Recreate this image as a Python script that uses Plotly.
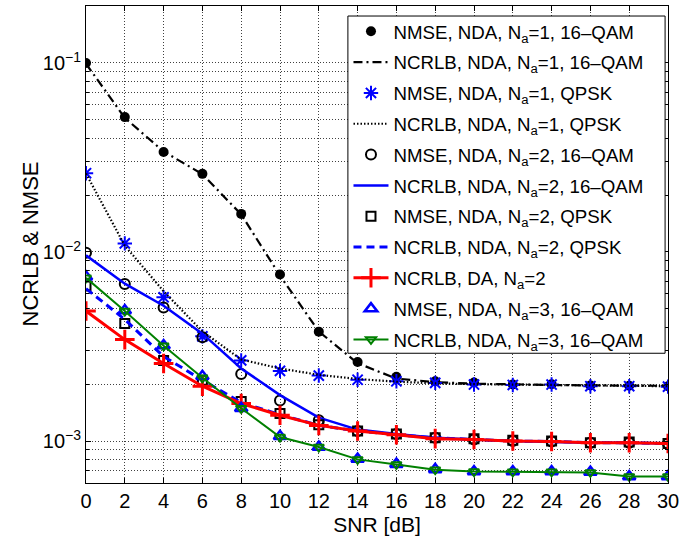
import numpy as np
import plotly.graph_objects as go

snr_db = list(range(0, 31, 2))

nmse_nda1_16qam = [0.100, 0.0517, 0.0338, 0.0259, 0.0159, 0.0076, 0.00379, 0.00262,
                   0.00219, 0.00207, 0.00204, 0.00199, 0.00200, 0.00197, 0.00196, 0.00195]
ncrlb_nda1_16qam = [0.099, 0.0512, 0.0340, 0.0258, 0.0158, 0.0075, 0.0038, 0.00258,
                    0.00214, 0.00205, 0.00201, 0.00199, 0.00198, 0.00197, 0.00197, 0.00196]
nmse_nda1_qpsk = [0.0261, 0.0111, 0.00576, 0.00358, 0.00267, 0.00235, 0.00222, 0.00211,
                  0.00207, 0.00203, 0.00199, 0.00198, 0.00199, 0.00195, 0.00195, 0.00194]
ncrlb_nda1_qpsk = [0.0260, 0.0108, 0.0062, 0.0038, 0.0027, 0.00242, 0.00224, 0.00213,
                   0.00206, 0.00202, 0.00200, 0.00199, 0.00198, 0.00197, 0.00196, 0.00195]
nmse_nda2_16qam = [0.00992, 0.00678, 0.00508, 0.00354, 0.00226, 0.00164, 0.00129, 0.00113,
                   0.00109, 0.00104, 0.00102, 0.00100, 0.000995, 0.00098, 0.00098, 0.00097]
ncrlb_nda2_16qam = [0.0096, 0.0068, 0.0052, 0.0037, 0.00242, 0.00175, 0.00133, 0.00115,
                    0.00109, 0.00104, 0.00102, 0.00100, 0.00099, 0.00098, 0.00098, 0.00097]
nmse_nda2_qpsk = [0.0066, 0.00418, 0.00267, 0.0021, 0.00162, 0.0014, 0.00122, 0.00113,
                  0.00109, 0.00104, 0.00103, 0.00101, 0.00100, 0.00098, 0.00099, 0.00097]
ncrlb_nda2_qpsk = [0.0064, 0.0044, 0.0028, 0.0021, 0.0016, 0.00138, 0.00121, 0.00113,
                   0.00108, 0.00104, 0.00102, 0.00100, 0.000995, 0.00098, 0.00098, 0.00097]
ncrlb_da2 = [0.00487, 0.00344, 0.00257, 0.00195, 0.00158, 0.00137, 0.00121, 0.00113,
             0.00108, 0.00103, 0.00102, 0.00100, 0.000995, 0.00098, 0.00098, 0.00097]
nmse_nda3_16qam = [0.0074, 0.0049, 0.0032, 0.0022, 0.00149, 0.00106, 0.00093, 0.000803,
                   0.000755, 0.000708, 0.00069, 0.00069, 0.00069, 0.000685, 0.00065, 0.00065]
ncrlb_nda3_16qam = [0.0073, 0.00487, 0.00319, 0.00216, 0.00149, 0.00105, 0.00093, 0.00080,
                    0.000752, 0.000706, 0.00069, 0.000688, 0.000688, 0.000682, 0.00065, 0.00065]

BLUE = "#0000ff"
RED = "#ff0000"
GREEN = "#008000"
BLACK = "#000000"

fig = go.Figure()

def add(y, name, mode, line=None, marker=None):
    # one legend group per trace so tracegroupgap spaces the legend rows
    fig.add_trace(go.Scatter(x=snr_db, y=y, name=name, mode=mode, legendgroup=name,
                             line=line or {}, marker=marker or {}))

add(nmse_nda1_16qam, "NMSE, NDA, N<sub>a</sub>=1, 16–QAM", "markers",
    marker=dict(symbol="circle", size=10, color=BLACK))
add(ncrlb_nda1_16qam, "NCRLB, NDA, N<sub>a</sub>=1, 16–QAM", "lines",
    line=dict(color=BLACK, width=2.2, dash="9px,4px,2px,4px"))
add(nmse_nda1_qpsk, "NMSE, NDA, N<sub>a</sub>=1, QPSK", "markers",
    marker=dict(symbol="asterisk-open", size=12, color=BLUE, line=dict(color=BLUE, width=2)))
add(ncrlb_nda1_qpsk, "NCRLB, NDA, N<sub>a</sub>=1, QPSK", "lines",
    line=dict(color=BLACK, width=2.2, dash="1.5px,2px"))
add(nmse_nda2_16qam, "NMSE, NDA, N<sub>a</sub>=2, 16–QAM", "markers",
    marker=dict(symbol="circle-open", size=10, color=BLACK, line=dict(color=BLACK, width=2)))
add(ncrlb_nda2_16qam, "NCRLB, NDA, N<sub>a</sub>=2, 16–QAM", "lines",
    line=dict(color=BLUE, width=2.5))
add(nmse_nda2_qpsk, "NMSE, NDA, N<sub>a</sub>=2, QPSK", "markers",
    marker=dict(symbol="square-open", size=9, color=BLACK, line=dict(color=BLACK, width=2)))
add(ncrlb_nda2_qpsk, "NCRLB, NDA, N<sub>a</sub>=2, QPSK", "lines",
    line=dict(color=BLUE, width=3, dash="8px,5px"))
add(ncrlb_da2, "NCRLB, DA, N<sub>a</sub>=2", "lines+markers",
    line=dict(color=RED, width=3),
    marker=dict(symbol="cross-thin-open", size=14, color=RED, line=dict(color=RED, width=3)))
add(nmse_nda3_16qam, "NMSE, NDA, N<sub>a</sub>=3, 16–QAM", "markers",
    marker=dict(symbol="triangle-up-open", size=11, color=BLUE, line=dict(color=BLUE, width=2.5)))
add(ncrlb_nda3_16qam, "NCRLB, NDA, N<sub>a</sub>=3, 16–QAM", "lines+markers",
    line=dict(color=GREEN, width=2),
    marker=dict(symbol="triangle-down-open", size=9, color=GREEN, line=dict(color=GREEN, width=2)))

FONT = "Liberation Sans, Arial, Helvetica, sans-serif"
GRID = "rgba(0,0,0,0.75)"

decades = [1e-3, 1e-2, 1e-1]
minor_vals = [m * d for d in [1e-4, 1e-3, 1e-2, 1e-1] for m in range(2, 10)]

# legend frame (white box with black border) sitting over the curves
fig.add_shape(type="rect", xref="paper", yref="paper",
              x0=0.450, x1=0.995, y0=0.272, y1=0.979,
              fillcolor="white", line=dict(color="black", width=1), layer="above")

# y-axis title placed as an annotation
fig.add_annotation(text="NCRLB &amp; NMSE", xref="paper", yref="paper",
                   x=(30 - 86) / 582, y=0.5, xanchor="center", yanchor="middle",
                   textangle=-90, showarrow=False, font=dict(size=22))

fig.update_layout(
    width=695, height=538,
    margin=dict(l=86, r=27, t=5, b=52),
    paper_bgcolor="white", plot_bgcolor="white",
    font=dict(family=FONT, size=20, color="black"),
    showlegend=True,
    legend=dict(
        x=0.451, y=0.986, xanchor="left", yanchor="top",
        bgcolor="rgba(0,0,0,0)", borderwidth=0,
        font=dict(family=FONT, size=18.7, color="black"),
        itemwidth=35, tracegroupgap=3.5,
    ),
    xaxis=dict(
        range=[0, 30], tickmode="array", tickvals=snr_db,
        ticks="inside", ticklen=5, tickcolor="black",
        showline=True, linecolor="black", linewidth=1, mirror="allticks",
        showgrid=True, gridcolor=GRID, gridwidth=1, griddash="1px,2px",
        zeroline=False,
        title=dict(text="SNR [dB]", font=dict(size=21), standoff=6),
    ),
    yaxis=dict(
        type="log", range=[np.log10(6e-4), np.log10(0.2)],
        tickmode="array", tickvals=decades,
        ticktext=["10<sup>−3</sup>", "10<sup>−2</sup>", "10<sup>−1</sup>"],
        ticks="inside", ticklen=5, tickcolor="black",
        showline=True, linecolor="black", linewidth=1, mirror="allticks",
        showgrid=True, gridcolor=GRID, gridwidth=1, griddash="1px,2px",
        zeroline=False,
        minor=dict(tickmode="array", tickvals=minor_vals, ticks="inside", ticklen=3,
                   tickcolor="black", showgrid=True, gridcolor=GRID, gridwidth=1,
                   griddash="1px,2px"),
    ),
)

fig.write_html("out.html")
